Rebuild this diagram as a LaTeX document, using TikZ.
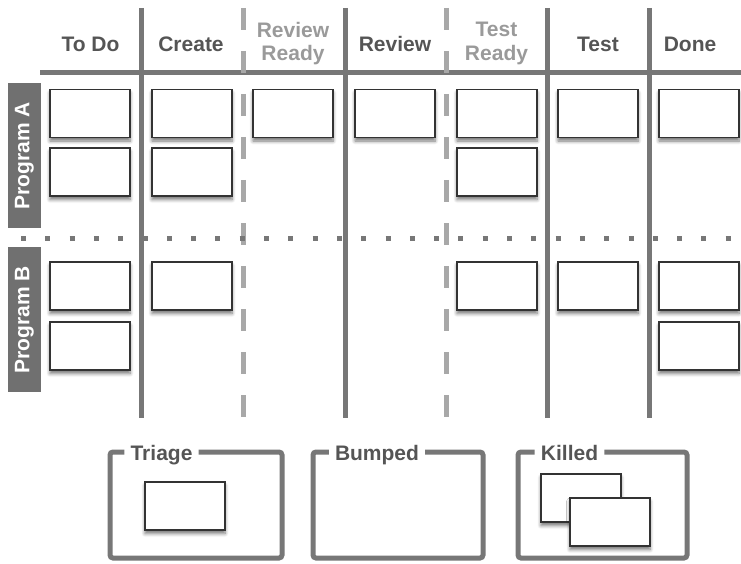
\documentclass[tikz,border=0pt]{standalone}
\usepackage{fontspec}
\setmainfont{Liberation Sans}
\usetikzlibrary{shadows.blur}
\definecolor{railgray}{HTML}{777777}
\definecolor{softgray}{HTML}{A8A8A8}
\definecolor{headdark}{HTML}{555555}
\definecolor{headlight}{HTML}{9A9A9A}
\definecolor{lanefill}{HTML}{707070}
\definecolor{cardline}{HTML}{333333}
\begin{document}
\begin{tikzpicture}[x=1pt,y=-1pt,
  rail/.style={draw=railgray,line width=5pt},
  softrail/.style={draw=softgray,line width=5pt,dash pattern=on 22pt off 21pt},
  dotrail/.style={draw=railgray,line width=5pt,dash pattern=on 5pt off 19.3pt},
  head/.style={font=\fontsize{21}{23.5}\selectfont\bfseries,text=headdark,align=center},
  headsoft/.style={head,text=headlight},
  lane/.style={fill=lanefill,text=white,rotate=90,minimum width=145pt,minimum height=33pt,
    inner sep=0pt,font=\fontsize{21}{23}\selectfont\bfseries},
  card/.style={draw=cardline,line width=1.5pt,fill=white,minimum width=80pt,minimum height=48pt,
    inner sep=0pt,blur shadow={shadow xshift=0pt,shadow yshift=-3.5pt,shadow blur radius=3.5pt,
    shadow blur steps=6,shadow opacity=55}},
  binlabel/.style={font=\fontsize{21}{23}\selectfont\bfseries,text=headdark,inner sep=6pt,
    text height=15pt,text depth=4.5pt},
  binline/.style={draw=railgray,line width=5pt,rounded corners=3pt}]
\useasboundingbox (0,0) rectangle (741,564);

% column rails
\draw[rail] (40,73) -- (741,73);
\draw[rail] (141.5,8) -- (141.5,418);
\draw[softrail] (243,8) -- (243,418);
\draw[rail] (345,8) -- (345,418);
\draw[softrail] (446,8) -- (446,418);
\draw[rail] (547,8) -- (547,418);
\draw[rail] (649,8) -- (649,418);

% lane divider
\draw[dotrail] (21,238) -- (741,238);

% column headings
\node[head] (hTodo) at (90.5,44) {To Do};
\node[head] (hCreate) at (191,44) {Create};
\node[headsoft] (hRevReady) at (293,43.5) {Review\\Ready};
\node[head] (hReview) at (395,44) {Review};
\node[headsoft] (hTestReady) at (496.5,43.5) {Test\\Ready};
\node[head] (hTest) at (598,44) {Test};
\node[head] (hDone) at (690,44) {Done};

% lane labels
\node[lane] (laneA) at (24.5,155.5) {Program A};
\node[lane] (laneB) at (24.5,319.5) {Program B};

% cards on the board
\foreach \cx/\cy/\nm in {
  90/113.5/a1, 192/113.5/a2, 293/113.5/a3, 395/113.5/a4, 497/113.5/a5, 598/113.5/a6, 699/113.5/a7,
  90/172/b1, 192/172/b2, 497/172/b5,
  90/286/c1, 192/286/c2, 497/286/c5, 598/286/c6, 699/286/c7,
  90/346/d1, 699/346/d7}
  \node[card] (card-\nm) at (\cx,\cy) {};

% holding bins: each frame leaves a gap in its top edge for its label
\coordinate (triageTL) at (110,452);
\node[binlabel] (lTriage) at (161.5,455) {Triage};
\draw[binline] (lTriage.west |- triageTL) -- (triageTL) -- (110,558) -- (282,558) -- (282,452)
  -- (lTriage.east |- triageTL);
\coordinate (bumpedTL) at (313,452);
\node[binlabel] (lBumped) at (377,455) {Bumped};
\draw[binline] (lBumped.west |- bumpedTL) -- (bumpedTL) -- (313,558) -- (483,558) -- (483,452)
  -- (lBumped.east |- bumpedTL);
\coordinate (killedTL) at (518,452);
\node[binlabel] (lKilled) at (569.5,455) {Killed};
\draw[binline] (lKilled.west |- killedTL) -- (killedTL) -- (518,558) -- (687,558) -- (687,452)
  -- (lKilled.east |- killedTL);

% cards in the bins
\node[card] (triageCard) at (185,506) {};
\node[card] (killedCardA) at (581,498) {};
\node[card] (killedCardB) at (610,522) {};
\end{tikzpicture}
\end{document}
